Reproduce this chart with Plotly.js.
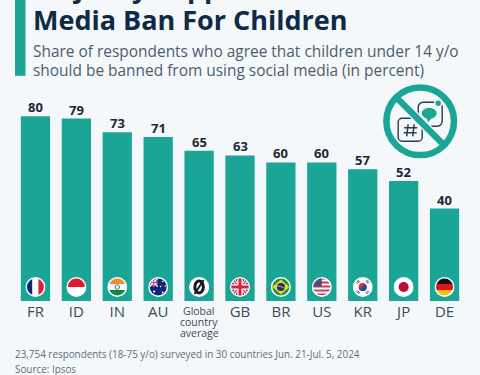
<!DOCTYPE html>
<html>
<head>
<meta charset="utf-8">
<script src="https://cdn.plot.ly/plotly-3.0.1.min.js"></script>
<style>html,body{margin:0;padding:0;background:#f4f8fb;overflow:hidden}</style>
</head>
<body>
<div id="chart" style="width:480px;height:375px"></div>
<script>
var codes = ['FR','ID','IN','AU','Global','GB','BR','US','KR','JP','DE'];
var tickLabels = ['FR','ID','IN','AU','','GB','BR','US','KR','JP','DE'];
var globalLabelLines = ['Global','country','average'];
var values = [80,79,73,71,65,63,60,60,57,52,40];
var titleLines = ['Majority Support Social','Media Ban For Children'];
var subtitleLines = ['Share of respondents who agree that children under 14 y/o','should be banned from using social media (in percent)'];
var footerLines = ['23,754 respondents (18-75 y/o) surveyed in 30 countries Jun. 21-Jul. 5, 2024','Source: Ipsos'];

var W=480,H=375,mL=15,mR=15.2,mT=69.7,mB=74.3,yMax=100;
var pw=W-mL-mR,ph=H-mT-mB;
function px(x){return (x-mL)/pw;}
function py(y){return 1-(y-mT)/ph;}

var flagArt = {
 FR:'<rect x="0" width="14" height="40" fill="#0b2a6b"/><rect x="14" width="12" height="40" fill="#fff"/><rect x="26" width="14" height="40" fill="#d8203a"/>',
 ID:'<rect width="40" height="20" fill="#e0192e"/><rect y="20" width="40" height="20" fill="#fff"/>',
 IN:'<rect width="40" height="14" fill="#f28c28"/><rect y="14" width="40" height="12" fill="#fff"/><rect y="26" width="40" height="14" fill="#17823a"/><circle cx="20" cy="20" r="4.5" fill="none" stroke="#1b2d7a" stroke-width="1.5"/>',
 AU:'<rect width="40" height="40" fill="#14247a"/><path d="M3 3L19 19M19 3L3 19" stroke="#fff" stroke-width="3"/><path d="M11 3V19M3 11H19" stroke="#fff" stroke-width="3.5"/><path d="M11 3V19M3 11H19" stroke="#d8203a" stroke-width="1.8"/><circle cx="12" cy="29" r="2.2" fill="#fff"/><circle cx="29" cy="9" r="1.5" fill="#fff"/><circle cx="34" cy="18" r="1.5" fill="#fff"/><circle cx="25" cy="19" r="1.5" fill="#fff"/><circle cx="29" cy="31" r="1.8" fill="#fff"/>',
 Global:'<ellipse cx="20" cy="20" rx="8.5" ry="12" fill="none" stroke="#101820" stroke-width="6"/><path d="M11 34L29 6" stroke="#101820" stroke-width="4"/>',
 GB:'<rect width="40" height="40" fill="#1f2f7a"/><path d="M0 0L40 40M40 0L0 40" stroke="#fff" stroke-width="7"/><path d="M0 0L40 40M40 0L0 40" stroke="#d8203a" stroke-width="2.5"/><path d="M20 0V40M0 20H40" stroke="#fff" stroke-width="11"/><path d="M20 0V40M0 20H40" stroke="#d8203a" stroke-width="6"/>',
 BR:'<rect width="40" height="40" fill="#12963f"/><path d="M20 5L37 20L20 35L3 20Z" fill="#f6d31e"/><circle cx="20" cy="20" r="8" fill="#1d2f78"/><path d="M12 18Q20 17 28 23" stroke="#fff" stroke-width="1.3" fill="none"/>',
 US:'<rect width="40" height="40" fill="#fff"/><path d="M0 3H40M0 11H40M0 19H40M0 27H40M0 35H40" stroke="#cf3a4c" stroke-width="4"/><rect width="20" height="19" fill="#4a4f86"/>',
 KR:'<rect width="40" height="40" fill="#fff"/><circle cx="20" cy="20" r="8" fill="#cd2e3a"/><path d="M12 20A8 8 0 0 0 28 20A4 4 0 0 0 20 20A4 4 0 0 1 12 20Z" fill="#0f4fa8"/><path d="M7 11L12 6M9 13L14 8M28 6L33 11M26 8L31 13M7 29L12 34M9 27L14 32M28 34L33 29M26 32L31 27" stroke="#111" stroke-width="1.6"/>',
 JP:'<rect width="40" height="40" fill="#fff"/><circle cx="20" cy="20" r="10" fill="#bc0f2f"/>',
 DE:'<rect width="40" height="14" fill="#111"/><rect y="14" width="40" height="13" fill="#d8141f"/><rect y="27" width="40" height="13" fill="#f7c600"/>'
};
function flagUri(code){
 var r = code==='Global' ? 20 : 17;
 var svg='<svg xmlns="http://www.w3.org/2000/svg" width="40" height="40" viewBox="0 0 40 40"><defs><clipPath id="c"><circle cx="20" cy="20" r="'+r+'"/></clipPath></defs><circle cx="20" cy="20" r="20" fill="#fff"/><g clip-path="url(#c)">'+flagArt[code]+'</g></svg>';
 return 'data:image/svg+xml;charset=utf-8,'+encodeURIComponent(svg);
}
var iconSvg='<svg xmlns="http://www.w3.org/2000/svg" width="80" height="80" viewBox="0 0 80 80">'+
 '<rect x="38" y="21" width="24" height="24" rx="5" fill="#f4f8fb" stroke="#2b3a4d" stroke-width="1.4"/>'+
 '<ellipse cx="49" cy="32" rx="7.5" ry="5.5" fill="#1ba596"/><path d="M46 36L48 41L52 36Z" fill="#1ba596"/>'+
 '<circle cx="58" cy="22" r="3.5" fill="#1ba596" stroke="#f4f8fb" stroke-width="1.5"/>'+
 '<rect x="18" y="37" width="24" height="23" rx="4" fill="#f4f8fb" stroke="#2b3a4d" stroke-width="1.4"/>'+
 '<path d="M28 43L26.5 55M34 43L32.5 55M24 46.5H37M23.5 51.5H36.5" stroke="#2b3a4d" stroke-width="1.5" fill="none"/>'+
 '<path d="M14 14L66 66" stroke="#f4f8fb" stroke-width="9"/>'+
 '<path d="M14 14L66 66" stroke="#1ba596" stroke-width="6.5"/>'+
 '<circle cx="40" cy="40" r="33.8" fill="none" stroke="#1ba596" stroke-width="6.5"/></svg>';

var images = codes.map(function(c,i){
 return {source:flagUri(c),xref:'x',yref:'y',x:i,y:(300.7-286.7)/(ph/yMax),sizex:20/(pw/11),sizey:20/(ph/yMax),
  xanchor:'center',yanchor:'middle',sizing:'stretch',layer:'above'};
});
images.push({source:'data:image/svg+xml;charset=utf-8,'+encodeURIComponent(iconSvg),xref:'paper',yref:'paper',
 x:px(380),y:py(81),sizex:80/pw,sizey:80/ph,xanchor:'left',yanchor:'top',sizing:'stretch',layer:'above'});

var FONT='"Open Sans",sans-serif';
function textAnn(txt,x,y,size,color,weight){
 return {text:txt,xref:'paper',yref:'paper',x:px(x),y:py(y),xanchor:'left',yanchor:'middle',showarrow:false,
  font:{family:FONT,size:size,color:color,weight:weight||400},align:'left',borderpad:0,captureevents:false};
}
var annotations=[
 textAnn(titleLines[0],31.5,-13,27,'#0e2a47',700),
 textAnn(titleLines[1],31.5,19,27,'#0e2a47',700),
 textAnn(subtitleLines[0],31.5,51,15.45,'#4d5c6d'),
 textAnn(subtitleLines[1],31.5,70,15.45,'#4d5c6d'),
 textAnn(footerLines[0],14,354,9.9,'#5f6c7a'),
 textAnn(footerLines[1],14,369,9.9,'#5f6c7a')
];
values.forEach(function(v,i){
 annotations.push({text:String(v),xref:'x',yref:'y',x:codes[i],y:v,xanchor:'center',yanchor:'bottom',yshift:-1,showarrow:false,
  font:{family:FONT,size:13,color:'#1d2733',weight:700},borderpad:0});
});
globalLabelLines.forEach(function(t,i){
 annotations.push({text:t,xref:'x',yref:'paper',x:'Global',y:py(310.7+i*11),xanchor:'center',yanchor:'middle',showarrow:false,
  font:{family:FONT,size:10.5,color:'#3d4a5a'},borderpad:0});
});

Plotly.newPlot('chart',[{
 type:'bar',x:codes,y:values,marker:{color:'#1ba596',line:{width:0}},cliponaxis:false,hoverinfo:'skip'
}],{
 width:W,height:H,margin:{l:mL,r:mR,t:mT,b:mB,pad:0},
 paper_bgcolor:'#f4f8fb',plot_bgcolor:'#f4f8fb',showlegend:false,bargap:0.284,
 xaxis:{type:'category',tickmode:'array',tickvals:codes,ticktext:tickLabels,range:[-0.5,10.5],showgrid:false,zeroline:false,showline:false,ticks:'',ticklen:0,
  tickangle:0,automargin:false,tickfont:{family:FONT,size:15,color:'#3d4a5a'}},
 yaxis:{range:[0,yMax],visible:false,fixedrange:true},
 shapes:[{type:'rect',xref:'paper',yref:'paper',x0:px(15),x1:px(25.5),y0:py(75.5),y1:py(-5),fillcolor:'#1ba596',line:{width:0},layer:'below'}],
 images:images,annotations:annotations
},{displayModeBar:false,staticPlot:true});
</script>
</body>
</html>
